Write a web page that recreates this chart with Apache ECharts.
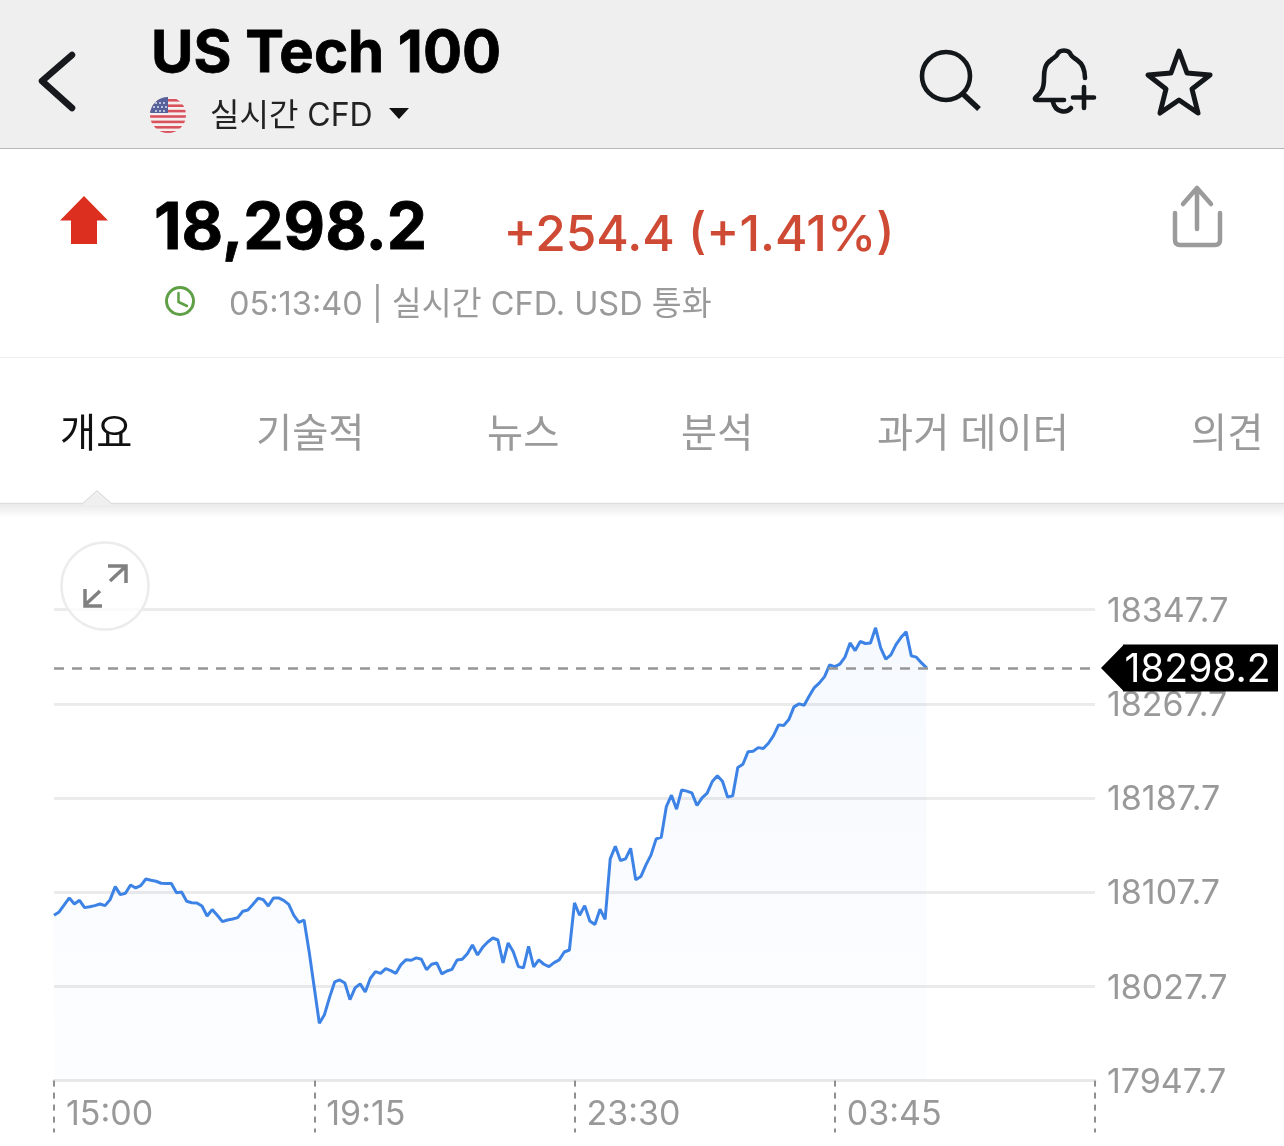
<!DOCTYPE html>
<html><head><meta charset="utf-8">
<style>html,body{margin:0;padding:0;background:#fff}#c{position:absolute;left:0;top:0;width:1284px;height:1146px}#i{position:absolute;left:0;top:0;pointer-events:none}</style>
<script src="https://cdn.jsdelivr.net/npm/echarts@6/dist/echarts.min.js"></script>
</head><body>
<div id="c"></div>
<svg id="i" width="1284" height="1146" viewBox="0 0 1284 1146" fill="none" stroke-linecap="round" stroke-linejoin="round">
<defs>
<clipPath id="fc"><circle cx="168" cy="115" r="18"/></clipPath>
<linearGradient id="sh" x1="0" y1="0" x2="0" y2="1"><stop offset="0" stop-color="#d8d8d8"/><stop offset="1" stop-color="#fff"/></linearGradient>
</defs>
<!-- back -->
<path d="M72 55 L42 81 L72 108" stroke="#17191c" stroke-width="6.5"/>
<!-- flag -->
<g clip-path="url(#fc)"><rect x="150" y="97" width="36" height="36" fill="#f4f0f0"/>
<g fill="#d9535f"><rect x="150" y="99" width="36" height="2.6"/><rect x="150" y="104.4" width="36" height="2.6"/><rect x="150" y="109.8" width="36" height="2.6"/><rect x="150" y="115.2" width="36" height="2.6"/><rect x="150" y="120.6" width="36" height="2.6"/><rect x="150" y="126" width="36" height="2.6"/><rect x="150" y="131" width="36" height="2.6"/></g>
<rect x="150" y="97" width="18" height="16" fill="#56609a"/>
<g fill="#dfe2ef"><circle cx="156" cy="103" r="1"/><circle cx="160" cy="103" r="1"/><circle cx="164" cy="103" r="1"/><circle cx="154" cy="107" r="1"/><circle cx="158" cy="107" r="1"/><circle cx="162" cy="107" r="1"/><circle cx="166" cy="107" r="1"/><circle cx="156" cy="111" r="1"/><circle cx="160" cy="111" r="1"/><circle cx="164" cy="111" r="1"/></g></g>
<path d="M389 108 H409 L399 119 Z" fill="#111"/>
<!-- search -->
<circle cx="946" cy="76" r="24" stroke="#14171a" stroke-width="4.6"/>
<path d="M963 94 L979 109" stroke="#14171a" stroke-width="5.5" stroke-linecap="butt"/>
<!-- bell -->
<path d="M1085 78 C1085 70 1083 64 1077 60 C1074 58 1072 57 1071 55 C1069 49 1059 49 1057 55 C1056 57 1053 58 1051 60 C1045 64 1044 70 1044 78 C1044 88 1042 92 1036 97 C1034 99 1035 100 1038 100 L1064 100" stroke="#14171a" stroke-width="4.6"/>
<path d="M1053 102 C1055 112 1066 114 1071 108" stroke="#14171a" stroke-width="4.6"/>
<path d="M1073 97.500 H1094 M1084 87 V108" stroke="#14171a" stroke-width="4.6"/>
<!-- star -->
<path d="M1179 51 L1187 73 L1210 75 L1192 89 L1198 113 L1179 100 L1160 113 L1166 89 L1148 75 L1171 73 Z" stroke="#14171a" stroke-width="5"/>
<!-- share -->
<path d="M1197 188 V229 M1183 204 L1197 188 L1211 204" stroke="#9b9b9b" stroke-width="4.500"/>
<path d="M1175 213 V240 Q1175 245 1180 245 H1215 Q1220 245 1220 240 V213" stroke="#9b9b9b" stroke-width="4.500"/>
<!-- red arrow -->
<path d="M84 196 L108 220.500 H97 V244 H71 V220.500 H60 Z" fill="#dc2f20"/>
<!-- clock -->
<circle cx="180" cy="301" r="13.500" stroke="#5f9f46" stroke-width="3"/>
<path d="M178.500 293 V302 L187 306" stroke="#5f9f46" stroke-width="2.500"/>
<!-- tab shadow and notch -->
<path d="M0 503.500 H83 L97 491 L111 503.500 H1284" stroke="#dedede" stroke-width="1.500" stroke-linecap="butt"/>
<rect x="0" y="504.300" width="1284" height="14" fill="url(#sh)" opacity=".55"/>
<path d="M83.800 504 L97 492.500 L110.200 504 Z" fill="#efefef"/>
<!-- expand button -->
<circle cx="105" cy="586" r="43.500" fill="#ffffff" fill-opacity=".8" stroke="#ececec" stroke-width="2.500"/>
<path d="M110 581 L125 567 M108 566 H126 V583 M100 591 L85 605 M85 589 V606 H102" stroke="#808080" stroke-width="3.500" stroke-linecap="butt" stroke-linejoin="miter"/>
</svg>
<script>
const yTicks = [17947.7, 18027.7, 18107.7, 18187.7, 18267.7, 18347.7];
const timeLabels = ['15:00', '19:15', '23:30', '03:45'];
const lastPrice = 18298.2;
const prices = [
18088.1,18090.9,18096.9,18102.8,18097.7,18100.8,18094.6,18095.4,18096.3,18097.7,18096.3,18101.4,18112.4,18105.6,18106.8,18113.8,18111.3,18113.3,18118.9,18117.8,
18117.0,18115.3,18115.0,18115.0,18107.3,18107.9,18100.0,18098.8,18098.6,18096.0,18087.5,18092.9,18088.1,18082.7,18084.1,18085.0,18086.1,18091.5,18092.6,18097.4,
18102.5,18101.4,18096.0,18102.8,18102.8,18100.8,18097.4,18088.1,18082.1,18084.1,18057.2,18026.7,17996.4,
18003.7,18018.4,18031.5,18033.2,18030.6,18016.5,18026.4,18029.8,18023.0,18034.6,18040.2,18038.8,18042.8,18041.1,18038.8,18046.2,18050.4,18049.9,18051.9,18050.7,
18041.9,18046.5,18047.6,18038.3,18040.8,18042.2,18050.2,18050.7,18055.5,18062.9,18054.4,18060.9,18065.4,18068.8,18067.1,18047.6,18064.6,18057.2,18044.5,18043.4,
18061.8,18044.2,18050.2,18046.5,18044.5,18047.9,18050.2,18056.9,18058.6,18098.6,18088.1,18096.3,18083.3,18080.2,18093.2,18084.7,
18136.0,18146.7,18134.6,18136.0,18145.0,18118.2,18121.0,18130.9,18139.4,18153.0,18154.4,18180.4,18190.1,18178.2,18194.6,18193.5,18192.0,18181.3,18187.8,18191.8,
18201.7,18206.5,18201.9,18188.6,18189.5,18213.6,18216.4,18226.9,18227.4,18230.5,18229.7,18234.2,18240.7,18249.8,18249.2,18254.3,18265.1,18267.6,18266.5,18274.4,
18281.5,18285.5,18290.8,18300.7,18299.3,18301.3,18307.3,18319.4,18312.9,18320.6,18318.9,18319.4,18332.2,18315.2,18305.6,18309.2,18318.0,18324.2,18328.8,18308.4,
18307.3,18302.4,18298.2];
const title = 'US Tech 100';
const subTitle = '실시간 CFD';
const priceText = '18,298.2';
const changeText = '+254.4 (+1.41%)';
const timeText = '05:13:40 | 실시간 CFD. USD 통화';
const tabs = ['개요', '기술적', '뉴스', '분석', '과거 데이터', '의견'];

const F = 'Inter, "Noto Sans CJK KR", sans-serif';
const txt = (text, x, y, size, fill, weight, sw) => ({
  type: 'text', z: 10,
  style: { text, x, y, fill, font: `${weight || 400} ${size}px ${F}`, textVerticalAlign: 'middle', stroke: sw ? fill : null, lineWidth: sw || 0 }
});
const tabX = [60, 256, 487, 681, 877, 1191];
const chart = echarts.init(document.getElementById('c'), null, { width: 1284, height: 1146 });
chart.setOption({
  animation: false,
  backgroundColor: '#fff',
  textStyle: { fontFamily: F },
  grid: { left: 54, right: 189, top: 609.6, bottom: 65.4, containLabel: false },
  xAxis: {
    type: 'value', min: 0, max: 1020, interval: 255,
    axisLine: { show: true, onZero: false, lineStyle: { color: '#e8e8e8', width: 3 } },
    axisTick: { show: true, length: 52, lineStyle: { color: '#8f8f8f', width: 2, type: [6, 6] } },
    axisLabel: { show: true, color: '#999', fontSize: 34, fontFamily: F, align: 'left', margin: 17, padding: [0, 0, 0, 12], verticalAlign: 'top',
      formatter: v => timeLabels[v / 255] || '' },
    splitLine: { show: false }
  },
  yAxis: {
    type: 'value', position: 'right', min: 17947.7, max: 18347.7,
    axisLine: { show: false },
    axisTick: { show: false, customValues: yTicks },
    axisLabel: { color: '#999', fontSize: 34, fontFamily: F, margin: 12, align: 'left', customValues: yTicks, formatter: v => v.toFixed(1), hideOverlap: false, verticalAlign: 'top', lineHeight: 4 },
    splitLine: { show: true, lineStyle: { color: '#ebebeb', width: 3 } }
  },
  series: [{
    type: 'line', symbol: 'none', smooth: false, clip: false,
    data: prices.map((v, i) => [i * 5, v]),
    lineStyle: { color: '#3d83e6', width: 3 },
    areaStyle: { origin: 'start', color: new echarts.graphic.LinearGradient(0, 0, 0, 1, [
      { offset: 0, color: 'rgba(61,131,230,0.07)' }, { offset: 1, color: 'rgba(61,131,230,0.02)' }]) },
    markLine: {
      silent: true, symbol: 'none', label: { show: false },
      lineStyle: { color: '#959595', width: 2.5, type: [10, 8] },
      data: [{ yAxis: lastPrice }]
    },
    markPoint: {
      silent: true,
      data: [{ coord: [1020, lastPrice], symbol: 'path://M0 23.500 L22 1 L22 0 L177 0 L177 47 L22 47 L22 46 Z', symbolSize: [177, 47], symbolKeepAspect: false, symbolOffset: [94.5, 0.2], itemStyle: { color: '#000' },
        label: { show: true, position: 'inside', offset: [8, 2], formatter: lastPrice.toFixed(1), color: '#fff', fontSize: 39, fontFamily: F } }]
    }
  }],
  graphic: { elements: [
    { type: 'rect', z: -10, shape: { x: 0, y: 0, width: 1284, height: 148 }, style: { fill: '#efeff0' } },
    { type: 'rect', z: -10, shape: { x: 0, y: 148, width: 1284, height: 1 }, style: { fill: '#b6b6b6' } },
    { type: 'rect', z: -10, shape: { x: 0, y: 357, width: 1284, height: 1 }, style: { fill: '#eeeeee' } },
    txt(title, 151, 55, 58, '#000', 700, 0.8),
    txt(subTitle, 210, 116, 32, '#222'),
    txt(priceText, 154, 230, 64, '#000', 700, 0.8),
    txt(changeText, 503.500, 236, 49.6, '#cf4a35', 500),
    txt(timeText, 229, 305, 32.5, '#9a9a9a'),
    ...tabs.map((t, i) => txt(t, tabX[i], 435, 39.3, i === 0 ? '#111' : '#9a9a9a'))
  ] }
});
</script>
</body></html>
